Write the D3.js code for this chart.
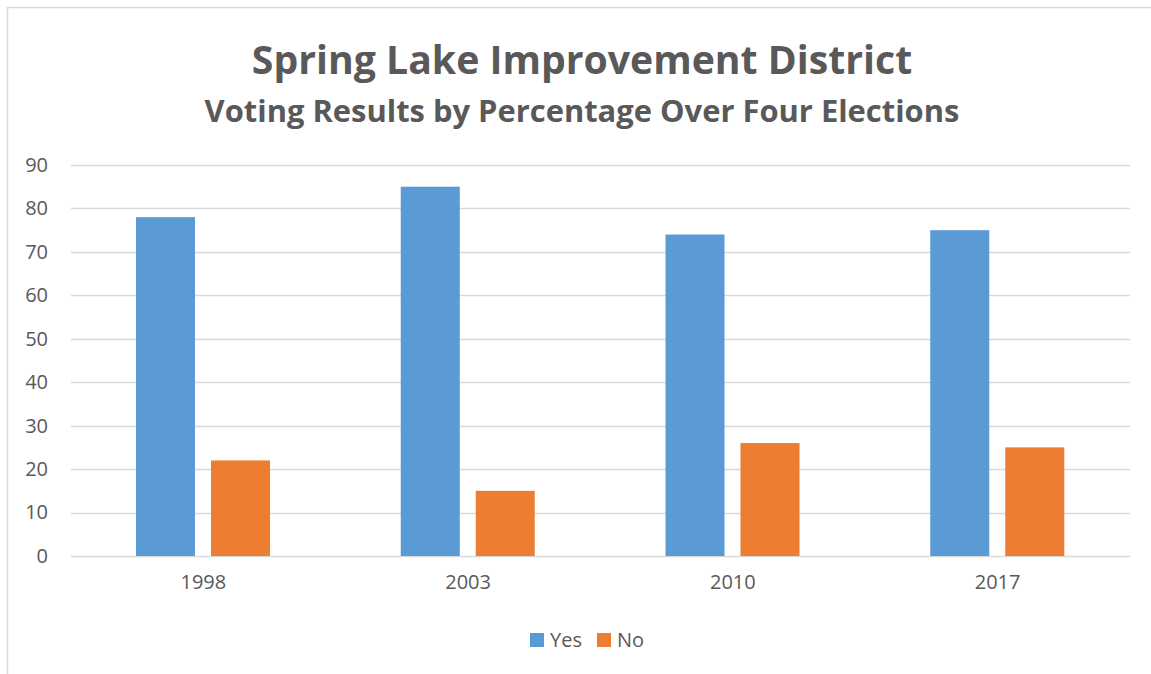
<!DOCTYPE html>
<html lang="en">
<head>
    <meta charset="UTF-8">
    <title>Spring Lake Improvement District</title>
    <style>
        body { margin: 0; background: #fff; }
        text { font-family: "Open Sans", "Noto Sans", sans-serif; fill: #595959; }
    </style>
</head>
<body>
    <div id="chart"></div>
    <script src="https://d3js.org/d3.v7.min.js"></script>
    <script>
        // data
        var years = ["1998", "2003", "2010", "2017"];
        var series = ["Yes", "No"];
        var yesValues = [78, 85, 74, 75];
        var noValues = [22, 15, 26, 25];
        var yTicks = [0, 10, 20, 30, 40, 50, 60, 70, 80, 90];
        var colors = ["#5B9BD5", "#ED7D31"];

        var W = 1151, H = 674;
        var margin = {top: 165, right: 21, bottom: 117, left: 71},
            width = W - margin.left - margin.right,
            height = H - margin.top - margin.bottom;

        var svg = d3.select('#chart')
            .append('svg')
                .attr('width', W)
                .attr('height', H);

        // chart border (only left/top visible in the reference)
        svg.append('rect')
            .attr('x', 7.5).attr('y', 7.5)
            .attr('width', W + 20).attr('height', H + 20)
            .attr('fill', 'none')
            .attr('stroke', '#D9D9D9')
            .attr('stroke-width', 1.5);

        svg.append('text')
            .attr('x', 582).attr('y', 74)
            .attr('text-anchor', 'middle')
            .style('font-size', '39.2px')
            .style('font-weight', 'bold')
            .text('Spring Lake Improvement District');

        svg.append('text')
            .attr('x', 582).attr('y', 122)
            .attr('text-anchor', 'middle')
            .style('font-size', '30.9px')
            .style('font-weight', 'bold')
            .text('Voting Results by Percentage Over Four Elections');

        var g = svg.append('g')
            .attr('transform', 'translate(' + margin.left + ',' + margin.top + ')');

        var y = d3.scaleLinear()
            .domain([0, 90])
            .range([height - 1, 0]);

        var x0 = d3.scaleBand()
            .domain(years)
            .range([0, width]);

        var x1 = d3.scaleBand()
            .domain(series)
            .range([x0.bandwidth() * 0.2455, x0.bandwidth() * 0.7517])
            .paddingInner(0.213);

        var color = d3.scaleOrdinal()
            .domain(series)
            .range(colors);

        // gridlines
        g.append('g')
            .selectAll('line')
            .data(yTicks)
            .enter().append('line')
                .attr('x1', 0)
                .attr('x2', width)
                .attr('y1', d => Math.round(y(d)) + 0.5)
                .attr('y2', d => Math.round(y(d)) + 0.5)
                .attr('stroke', '#D9D9D9')
                .attr('stroke-width', 1.5);

        // y axis labels
        var yAxis = g.append('g')
            .attr('transform', 'translate(-23,0)')
            .call(d3.axisLeft(y).tickValues(yTicks).tickSize(0).tickPadding(0));
        yAxis.select('.domain').remove();
        yAxis.selectAll('text')
            .attr('fill', '#595959')
            .style('font-size', '20px')
            .style('font-family', '"Open Sans", sans-serif');

        // x axis labels
        var xAxis = g.append('g')
            .attr('transform', 'translate(0,' + height + ')')
            .call(d3.axisBottom(x0).tickSize(0).tickPadding(18));
        xAxis.select('.domain').remove();
        xAxis.selectAll('text')
            .attr('fill', '#595959')
            .style('font-size', '20px')
            .style('font-family', '"Open Sans", sans-serif');

        var rows = years.map(function(yr, i) {
            return {year: yr, values: [
                {key: "Yes", value: yesValues[i]},
                {key: "No", value: noValues[i]}
            ]};
        });

        g.append('g')
            .selectAll('g')
            .data(rows)
            .enter().append('g')
                .attr('transform', d => 'translate(' + x0(d.year) + ',0)')
            .selectAll('rect')
            .data(d => d.values)
            .enter().append('rect')
                .attr('x', d => x1(d.key))
                .attr('width', x1.bandwidth())
                .attr('y', d => y(d.value))
                .attr('height', d => y(0) - y(d.value))
                .attr('fill', d => color(d.key));

        // legend
        var legend = svg.append('g')
            .attr('transform', 'translate(530,633)');
        var items = legend.selectAll('.legend')
            .data(series)
            .enter().append('g')
                .attr('class', 'legend')
                .attr('transform', (d, i) => 'translate(' + (i * 67) + ',0)');
        items.append('rect')
            .attr('width', 14)
            .attr('height', 14)
            .attr('fill', d => color(d));
        items.append('text')
            .attr('x', 20)
            .attr('y', 14)
            .style('font-size', '20px')
            .text(d => d);
    </script>
</body>
</html>
